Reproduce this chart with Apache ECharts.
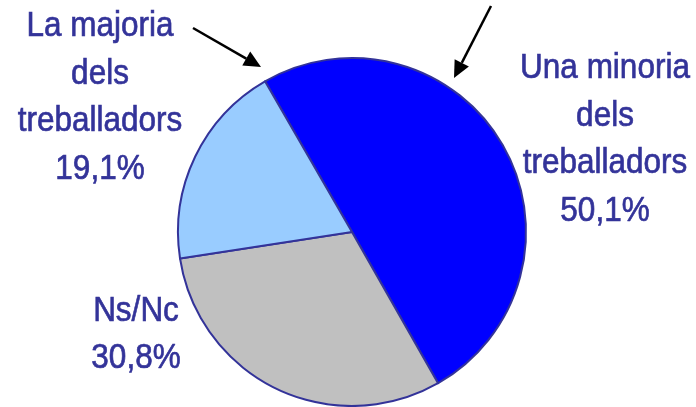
<!DOCTYPE html>
<html>
<head>
<meta charset="utf-8">
<style>
  html, body { margin: 0; padding: 0; background: #ffffff; }
  #chart { width: 696px; height: 407px; }
</style>
<script src="https://cdn.jsdelivr.net/npm/echarts@6/dist/echarts.min.js"></script>
</head>
<body>
<div id="chart"></div>
<script>
// Survey answer groups, in clockwise drawing order from the upper-left edge
const categories = ['Una minoria dels treballadors', 'Ns/Nc', 'La majoria dels treballadors'];
const values = [50.1, 30.8, 19.1];
// Multi-line captions printed beside the pie (value appended below)
const captionLines = [
  ['Una minoria', 'dels', 'treballadors'],
  ['Ns/Nc'],
  ['La majoria', 'dels', 'treballadors']
];
const sliceColors = ['#0000ff', '#c0c0c0', '#99ccff'];

const textColor = '#333399';
const fmt = v => v.toFixed(1).replace('.', ',') + '%';

const chart = echarts.init(document.getElementById('chart'), null, { renderer: 'canvas' });

// Caption anchor points (centre of each text block) and line height
const captionPos = [
  { x: 605, y: 140 },
  { x: 136, y: 335 },
  { x: 100, y: 98 }
];
const lineH = 47.5;
const stretchY = 1.12; // slightly condensed, tall lettering

const captionGraphics = captionLines.map((lines, i) => {
  const all = lines.concat([fmt(values[i])]);
  return {
    type: 'text',
    x: captionPos[i].x,
    y: captionPos[i].y,
    scaleY: stretchY,
    style: {
      text: all.join('\n'),
      fill: textColor,
      stroke: textColor,
      lineWidth: 0.6,
      font: '31.5px "Liberation Sans", Arial, sans-serif',
      lineHeight: lineH / stretchY,
      align: 'center',
      verticalAlign: 'middle'
    },
    z: 10
  };
});

// Straight arrow with a filled triangular head
function arrow(x1, y1, x2, y2) {
  const ang = Math.atan2(y2 - y1, x2 - x1);
  const len = 17, half = 8;
  const bx = x2 - len * Math.cos(ang), by = y2 - len * Math.sin(ang);
  const px = -Math.sin(ang) * half, py = Math.cos(ang) * half;
  return [
    {
      type: 'line',
      shape: { x1: x1, y1: y1, x2: bx, y2: by },
      style: { stroke: '#000000', lineWidth: 2.5 },
      z: 10
    },
    {
      type: 'polygon',
      shape: { points: [[x2, y2], [bx + px, by + py], [bx - px, by - py]] },
      style: { fill: '#000000' },
      z: 10
    }
  ];
}

chart.setOption({
  animation: false,
  backgroundColor: '#ffffff',
  series: [{
    type: 'pie',
    center: [352, 232],
    radius: 174,
    startAngle: 120,
    clockwise: true,
    label: { show: false },
    labelLine: { show: false },
    itemStyle: { borderColor: '#333399', borderWidth: 2 },
    emphasis: { disabled: true },
    data: categories.map((name, i) => ({
      name: name,
      value: values[i],
      itemStyle: { color: sliceColors[i] }
    }))
  }],
  graphic: captionGraphics
    .concat(arrow(193, 28, 261, 67))
    .concat(arrow(491, 6, 454, 78))
});
</script>
</body>
</html>
